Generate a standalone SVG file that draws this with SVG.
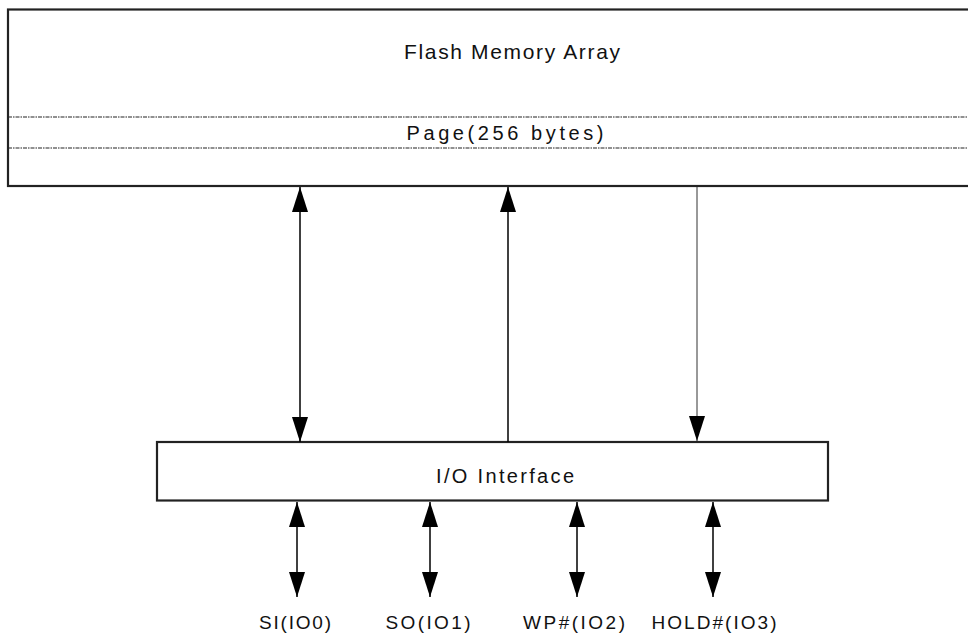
<svg xmlns="http://www.w3.org/2000/svg" width="968" height="637" viewBox="0 0 968 637">
<style>
.box{fill:#fff;stroke:#222;stroke-width:2.2}
.dash{stroke:#222;stroke-width:1.2;stroke-dasharray:4 1 1.5 1;fill:none}
.t{font-family:"Liberation Sans",Arial,sans-serif;fill:#111;text-anchor:middle}
.c{stroke:#000;stroke-width:1.5;fill:none}
.thin{stroke:#333;stroke-width:1;fill:none}
</style>
<defs>
<marker id="ah" viewBox="0 0 25 16" refX="25" refY="8" markerWidth="25" markerHeight="16" markerUnits="userSpaceOnUse" orient="auto-start-reverse">
<path d="M0,0 L25,8 L0,16 z" fill="#000"/>
</marker>
</defs>
<g id="flash">
<rect class="box" x="8" y="9.5" width="975" height="176.5"/>
<line class="dash" x1="8" y1="117" x2="968" y2="117"/>
<line class="dash" x1="8" y1="148" x2="968" y2="148"/>
<text class="t" x="512" y="59" font-size="21" textLength="216" lengthAdjust="spacing">Flash Memory Array</text>
<text class="t" x="505" y="140" font-size="20" textLength="197" lengthAdjust="spacing">Page(256 bytes)</text>
</g>
<g id="io">
<rect class="box" x="157" y="442" width="671" height="58.5"/>
<text class="t" x="505" y="483" font-size="20" textLength="138" lengthAdjust="spacing">I/O Interface</text>
</g>
<g id="connectors">
<line class="c" x1="300" y1="442" x2="300" y2="187" marker-start="url(#ah)" marker-end="url(#ah)"/>
<line class="c" x1="508" y1="442" x2="508" y2="187" marker-end="url(#ah)"/>
<line class="thin" x1="697" y1="187" x2="697" y2="441" marker-end="url(#ah)"/>
<line class="c" x1="297" y1="502" x2="297" y2="597" marker-start="url(#ah)" marker-end="url(#ah)"/>
<line class="c" x1="430" y1="502" x2="430" y2="597" marker-start="url(#ah)" marker-end="url(#ah)"/>
<line class="c" x1="577" y1="502" x2="577" y2="597" marker-start="url(#ah)" marker-end="url(#ah)"/>
<line class="c" x1="713" y1="502" x2="713" y2="597" marker-start="url(#ah)" marker-end="url(#ah)"/>
</g>
<g id="labels">
<text class="t" x="295" y="629" font-size="19" textLength="72" lengthAdjust="spacing">SI(IO0)</text>
<text class="t" x="428" y="629" font-size="19" textLength="85" lengthAdjust="spacing">SO(IO1)</text>
<text class="t" x="574" y="629" font-size="19" textLength="102" lengthAdjust="spacing">WP#(IO2)</text>
<text class="t" x="714" y="629" font-size="19" textLength="125" lengthAdjust="spacing">HOLD#(IO3)</text>
</g>
</svg>
